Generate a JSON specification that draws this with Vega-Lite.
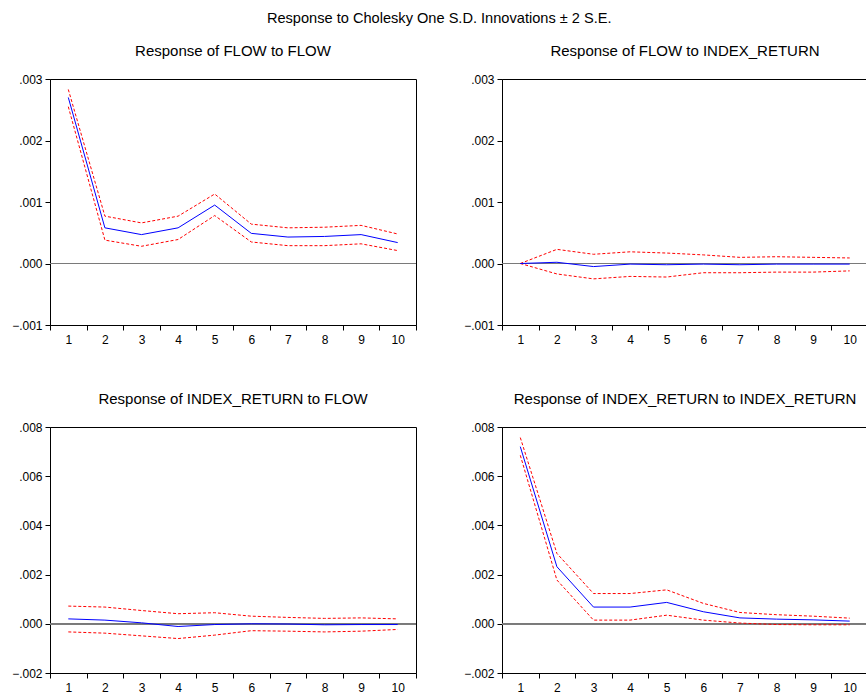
{
  "$schema": "https://vega.github.io/schema/vega-lite/v6.json",
  "background": "white",
  "padding": {"left": 9, "top": 10, "right": 1, "bottom": 0},
  "title": {"text": "Response to Cholesky One S.D. Innovations ± 2 S.E.", "fontSize": 14.6, "font": "Liberation Sans", "fontWeight": "normal", "color": "#000", "anchor": "middle", "baseline": "top", "offset": 18},
  "data": {"values": [
    {"panel": "FF", "period": 1, "resp": 0.00270, "lo": 0.00255, "hi": 0.00283},
    {"panel": "FF", "period": 2, "resp": 0.00058, "lo": 0.00038, "hi": 0.00077},
    {"panel": "FF", "period": 3, "resp": 0.00047, "lo": 0.00028, "hi": 0.00066},
    {"panel": "FF", "period": 4, "resp": 0.00058, "lo": 0.00039, "hi": 0.00077},
    {"panel": "FF", "period": 5, "resp": 0.00095, "lo": 0.00078, "hi": 0.00113},
    {"panel": "FF", "period": 6, "resp": 0.00049, "lo": 0.00035, "hi": 0.00064},
    {"panel": "FF", "period": 7, "resp": 0.00043, "lo": 0.00029, "hi": 0.00058},
    {"panel": "FF", "period": 8, "resp": 0.00044, "lo": 0.00029, "hi": 0.00059},
    {"panel": "FF", "period": 9, "resp": 0.00047, "lo": 0.00032, "hi": 0.00062},
    {"panel": "FF", "period": 10, "resp": 0.00034, "lo": 0.00021, "hi": 0.00048},
    {"panel": "FI", "period": 1, "resp": 0.0, "lo": 0.0, "hi": 0.0},
    {"panel": "FI", "period": 2, "resp": 0.00002, "lo": -0.00017, "hi": 0.00023},
    {"panel": "FI", "period": 3, "resp": -0.00005, "lo": -0.00025, "hi": 0.00015},
    {"panel": "FI", "period": 4, "resp": -0.00001, "lo": -0.00021, "hi": 0.00019},
    {"panel": "FI", "period": 5, "resp": -0.00002, "lo": -0.00022, "hi": 0.00017},
    {"panel": "FI", "period": 6, "resp": -0.00001, "lo": -0.00015, "hi": 0.00014},
    {"panel": "FI", "period": 7, "resp": -0.00002, "lo": -0.00015, "hi": 0.00010},
    {"panel": "FI", "period": 8, "resp": -0.00001, "lo": -0.00014, "hi": 0.00011},
    {"panel": "FI", "period": 9, "resp": -0.00001, "lo": -0.00014, "hi": 0.00010},
    {"panel": "FI", "period": 10, "resp": -0.00001, "lo": -0.00012, "hi": 0.00009},
    {"panel": "IF", "period": 1, "resp": 0.00020, "lo": -0.00033, "hi": 0.00072},
    {"panel": "IF", "period": 2, "resp": 0.00015, "lo": -0.00038, "hi": 0.00068},
    {"panel": "IF", "period": 3, "resp": 0.00004, "lo": -0.00049, "hi": 0.00054},
    {"panel": "IF", "period": 4, "resp": -0.00011, "lo": -0.00060, "hi": 0.00041},
    {"panel": "IF", "period": 5, "resp": -0.00003, "lo": -0.00046, "hi": 0.00045},
    {"panel": "IF", "period": 6, "resp": 0.0, "lo": -0.00028, "hi": 0.00031},
    {"panel": "IF", "period": 7, "resp": -0.00001, "lo": -0.00030, "hi": 0.00026},
    {"panel": "IF", "period": 8, "resp": -0.00004, "lo": -0.00033, "hi": 0.00022},
    {"panel": "IF", "period": 9, "resp": -0.00003, "lo": -0.00030, "hi": 0.00024},
    {"panel": "IF", "period": 10, "resp": -0.00003, "lo": -0.00023, "hi": 0.00020},
    {"panel": "II", "period": 1, "resp": 0.00720, "lo": 0.00685, "hi": 0.00757},
    {"panel": "II", "period": 2, "resp": 0.00232, "lo": 0.00178, "hi": 0.00286},
    {"panel": "II", "period": 3, "resp": 0.00068, "lo": 0.00015, "hi": 0.00123},
    {"panel": "II", "period": 4, "resp": 0.00068, "lo": 0.00015, "hi": 0.00123},
    {"panel": "II", "period": 5, "resp": 0.00087, "lo": 0.00035, "hi": 0.00138},
    {"panel": "II", "period": 6, "resp": 0.00049, "lo": 0.00015, "hi": 0.00083},
    {"panel": "II", "period": 7, "resp": 0.00024, "lo": 0.00003, "hi": 0.00046},
    {"panel": "II", "period": 8, "resp": 0.00019, "lo": -0.00003, "hi": 0.00037},
    {"panel": "II", "period": 9, "resp": 0.00016, "lo": -0.00004, "hi": 0.00031},
    {"panel": "II", "period": 10, "resp": 0.00011, "lo": -0.00004, "hi": 0.00023}
  ]},
  "columns": 2,
  "spacing": {"column": 44, "row": 40},
  "concat": [
    {
      "title": "Response of FLOW to FLOW",
      "width": 366, "height": 246,
      "transform": [{"filter": "datum.panel === 'FF'"}],
      "layer": [
        {"mark": {"type": "rule", "color": "#7a7a7a", "strokeWidth": 1}, "encoding": {"y": {"datum": 0, "type": "quantitative", "scale": {"domain": [-0.001, 0.003], "nice": false, "zero": false}, "axis": {"values": [-0.001, 0, 0.001, 0.002, 0.003], "title": null}}}},
        {"mark": {"type": "line", "color": "#ff0000", "strokeWidth": 1, "strokeDash": [3, 2]}, "encoding": {"x": {"field": "period", "type": "ordinal", "bandPosition": 0.5, "scale": {"type": "band", "paddingInner": 0, "paddingOuter": 0}, "axis": {"title": null}}, "y": {"field": "hi", "type": "quantitative"}}},
        {"mark": {"type": "line", "color": "#ff0000", "strokeWidth": 1, "strokeDash": [3, 2]}, "encoding": {"x": {"field": "period", "type": "ordinal", "bandPosition": 0.5}, "y": {"field": "lo", "type": "quantitative"}}},
        {"mark": {"type": "line", "color": "#0000ff", "strokeWidth": 1}, "encoding": {"x": {"field": "period", "type": "ordinal", "bandPosition": 0.5}, "y": {"field": "resp", "type": "quantitative"}}}
      ]
    },
    {
      "title": "Response of FLOW to INDEX_RETURN",
      "width": 366, "height": 246,
      "transform": [{"filter": "datum.panel === 'FI'"}],
      "layer": [
        {"mark": {"type": "rule", "color": "#7a7a7a", "strokeWidth": 1}, "encoding": {"y": {"datum": 0, "type": "quantitative", "scale": {"domain": [-0.001, 0.003], "nice": false, "zero": false}, "axis": {"values": [-0.001, 0, 0.001, 0.002, 0.003], "title": null}}}},
        {"mark": {"type": "line", "color": "#ff0000", "strokeWidth": 1, "strokeDash": [3, 2]}, "encoding": {"x": {"field": "period", "type": "ordinal", "bandPosition": 0.5, "scale": {"type": "band", "paddingInner": 0, "paddingOuter": 0}, "axis": {"title": null}}, "y": {"field": "hi", "type": "quantitative"}}},
        {"mark": {"type": "line", "color": "#ff0000", "strokeWidth": 1, "strokeDash": [3, 2]}, "encoding": {"x": {"field": "period", "type": "ordinal", "bandPosition": 0.5}, "y": {"field": "lo", "type": "quantitative"}}},
        {"mark": {"type": "line", "color": "#0000ff", "strokeWidth": 1}, "encoding": {"x": {"field": "period", "type": "ordinal", "bandPosition": 0.5}, "y": {"field": "resp", "type": "quantitative"}}}
      ]
    },
    {
      "title": "Response of INDEX_RETURN to FLOW",
      "width": 366, "height": 246,
      "transform": [{"filter": "datum.panel === 'IF'"}],
      "layer": [
        {"mark": {"type": "rule", "color": "#7a7a7a", "strokeWidth": 1}, "encoding": {"y": {"datum": 0, "type": "quantitative", "scale": {"domain": [-0.002, 0.008], "nice": false, "zero": false}, "axis": {"values": [-0.002, 0, 0.002, 0.004, 0.006, 0.008], "title": null}}}},
        {"mark": {"type": "line", "color": "#ff0000", "strokeWidth": 1, "strokeDash": [3, 2]}, "encoding": {"x": {"field": "period", "type": "ordinal", "bandPosition": 0.5, "scale": {"type": "band", "paddingInner": 0, "paddingOuter": 0}, "axis": {"title": null}}, "y": {"field": "hi", "type": "quantitative"}}},
        {"mark": {"type": "line", "color": "#ff0000", "strokeWidth": 1, "strokeDash": [3, 2]}, "encoding": {"x": {"field": "period", "type": "ordinal", "bandPosition": 0.5}, "y": {"field": "lo", "type": "quantitative"}}},
        {"mark": {"type": "line", "color": "#0000ff", "strokeWidth": 1}, "encoding": {"x": {"field": "period", "type": "ordinal", "bandPosition": 0.5}, "y": {"field": "resp", "type": "quantitative"}}}
      ]
    },
    {
      "title": "Response of INDEX_RETURN to INDEX_RETURN",
      "width": 366, "height": 246,
      "transform": [{"filter": "datum.panel === 'II'"}],
      "layer": [
        {"mark": {"type": "rule", "color": "#7a7a7a", "strokeWidth": 1}, "encoding": {"y": {"datum": 0, "type": "quantitative", "scale": {"domain": [-0.002, 0.008], "nice": false, "zero": false}, "axis": {"values": [-0.002, 0, 0.002, 0.004, 0.006, 0.008], "title": null}}}},
        {"mark": {"type": "line", "color": "#ff0000", "strokeWidth": 1, "strokeDash": [3, 2]}, "encoding": {"x": {"field": "period", "type": "ordinal", "bandPosition": 0.5, "scale": {"type": "band", "paddingInner": 0, "paddingOuter": 0}, "axis": {"title": null}}, "y": {"field": "hi", "type": "quantitative"}}},
        {"mark": {"type": "line", "color": "#ff0000", "strokeWidth": 1, "strokeDash": [3, 2]}, "encoding": {"x": {"field": "period", "type": "ordinal", "bandPosition": 0.5}, "y": {"field": "lo", "type": "quantitative"}}},
        {"mark": {"type": "line", "color": "#0000ff", "strokeWidth": 1}, "encoding": {"x": {"field": "period", "type": "ordinal", "bandPosition": 0.5}, "y": {"field": "resp", "type": "quantitative"}}}
      ]
    }
  ],
  "config": {
    "font": "Liberation Sans",
    "view": {"stroke": "#000", "strokeWidth": 1},
    "title": {"fontSize": 15, "fontWeight": "normal", "color": "#000", "anchor": "middle", "baseline": "alphabetic", "offset": 14},
    "axis": {"grid": false, "domainColor": "#000", "tickColor": "#000", "labelColor": "#000", "labelFont": "Liberation Sans", "labelFontSize": 12, "title": null},
    "axisX": {"labelAngle": 0, "tickBand": "extent", "tickSize": 5, "labelPadding": 4, "minExtent": 25, "maxExtent": 25},
    "axisY": {"tickSize": 5, "labelPadding": 3, "minExtent": 40, "maxExtent": 40, "labelExpr": "replace(format(datum.value, '.3f'), '0.', '.')"}
  }
}
